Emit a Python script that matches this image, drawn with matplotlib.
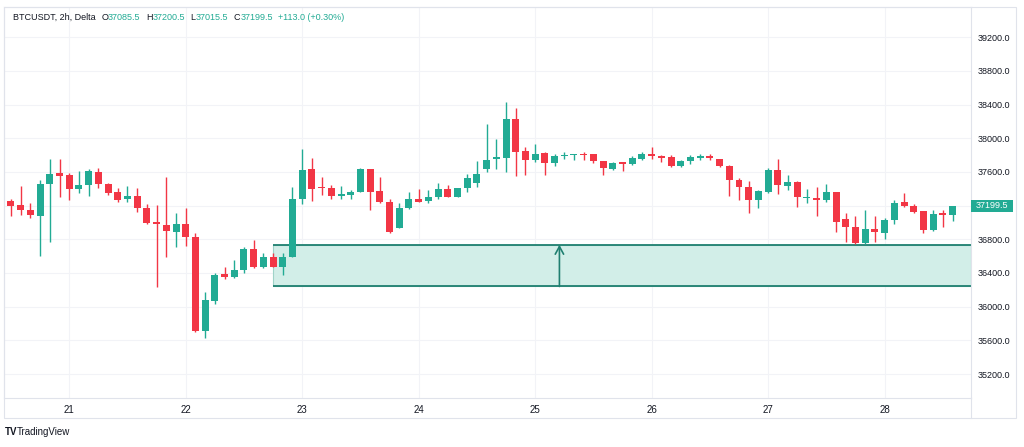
import matplotlib
matplotlib.use("Agg")
import matplotlib.pyplot as plt
import matplotlib.patches as patches
from matplotlib.lines import Line2D
import matplotlib.transforms as mtransforms

# 2h candles, first one is the 20th 12:00
opens = [37259, 37206, 37150, 37079, 37459, 37589, 37562, 37392, 37440, 37598,
         37459, 37360, 37277, 37309, 37174, 37004, 36968, 36889, 36977, 36830,
         35714, 36070, 36383, 36355, 36434, 36684, 36466, 36592, 36474, 36585,
         37285, 37633, 37420, 37412, 37316, 37325, 37364, 37641, 37376, 37238,
         36937, 37167, 37277, 37257, 37297, 37392, 37305, 37412, 37475, 37641,
         37752, 37767, 38227, 37847, 37748, 37827, 37701, 37788, 37800, 37815,
         37808, 37728, 37641, 37716, 37696, 37760, 37811, 37788, 37779, 37672,
         37728, 37767, 37791, 37760, 37672, 37503, 37423, 37265, 37364, 37629,
         37435, 37482, 37293, 37289, 37265, 37364, 37036, 36941, 36751, 36921,
         36870, 37028, 37245, 37194, 37138, 36909, 37115, 37085.5]
highs = [37277, 37435, 37226, 37503, 37752, 37752, 37589, 37609, 37633, 37648,
         37475, 37411, 37431, 37411, 37214, 37202, 37535, 37114, 37167, 36877,
         36177, 36395, 36474, 36553, 36711, 36790, 36640, 36632, 36632, 37423,
         37879, 37772, 37542, 37443, 37435, 37384, 37649, 37641, 37542, 37285,
         37226, 37357, 37392, 37384, 37475, 37443, 37412, 37582, 37728, 38167,
         37989, 38432, 38361, 37898, 37938, 37839, 37808, 37835, 37815, 37839,
         37819, 37728, 37720, 37720, 37788, 37835, 37898, 37800, 37800, 37740,
         37800, 37819, 37819, 37760, 37680, 37523, 37494, 37384, 37648, 37760,
         37562, 37494, 37392, 37416, 37455, 37364, 37107, 37075, 37154, 37075,
         37048, 37273, 37352, 37218, 37138, 37154, 37154, 37200.5]
lows = [37075, 37087, 37055, 36604, 36770, 37304, 37273, 37352, 37316, 37411,
        37321, 37238, 37245, 37126, 36988, 36236, 36592, 36704, 36719, 35700,
        35631, 36035, 36324, 36336, 36395, 36454, 36454, 36470, 36375, 36585,
        37218, 37257, 37325, 37277, 37277, 37277, 37360, 37146, 37226, 36870,
        36929, 37159, 37238, 37226, 37277, 37300, 37300, 37364, 37423, 37601,
        37633, 37594, 37554, 37562, 37720, 37570, 37672, 37752, 37740, 37748,
        37701, 37570, 37621, 37609, 37684, 37740, 37760, 37720, 37660, 37660,
        37700, 37748, 37740, 37660, 37313, 37273, 37115, 37167, 37352, 37336,
        37384, 37186, 37226, 37075, 37245, 36889, 36770, 36745, 36745, 36770,
        36802, 36980, 37186, 37111, 36870, 36901, 36941, 37015.5]
closes = [37200, 37147, 37091, 37459, 37577, 37554, 37396, 37440, 37609, 37459,
          37345, 37269, 37309, 37167, 36999, 36984, 36897, 36977, 36830, 35714,
          36078, 36375, 36348, 36434, 36684, 36466, 36592, 36474, 36592, 37285,
          37621, 37399, 37412, 37316, 37336, 37364, 37641, 37364, 37238, 36882,
          37167, 37285, 37245, 37305, 37392, 37305, 37412, 37523, 37574, 37740,
          37779, 38235, 37839, 37748, 37819, 37701, 37788, 37796, 37815, 37800,
          37732, 37649, 37708, 37696, 37767, 37808, 37788, 37767, 37669, 37732,
          37779, 37791, 37767, 37672, 37503, 37416, 37265, 37372, 37621, 37443,
          37482, 37297, 37305, 37273, 37364, 37008, 36941, 36751, 36917, 36889,
          37028, 37233, 37194, 37119, 36909, 37099, 37084, 37199.5]

days = [21, 22, 23, 24, 25, 26, 27, 28]
price_ticks = [35200, 35600, 36000, 36400, 36800, 37200, 37600, 38000, 38400, 38800, 39200]

# demand zone drawn on the chart
zone_start = 27
zone_low = 36240
zone_high = 36735
arrow_at = 56.5

header_name = "BTCUSDT, 2h, Delta"
header_ohlc = [("O", "37085.5"), ("H", "37200.5"), ("L", "37015.5"), ("C", "37199.5")]
header_change = "+113.0 (+0.30%)"

up = "#22ab94"
down = "#f23645"
zone_line = "#1f7f70"
zone_fill = "#d2eee8"
grid_c = "#f2f3f7"
frame_c = "#e0e3eb"
text_c = "#131722"

plt.rcParams['font.family'] = ['Liberation Sans', 'DejaVu Sans']

W, H = 1024, 447
fig = plt.figure(figsize=(W / 100, H / 100), dpi=100)
fig.patch.set_facecolor("white")

# plot area in pixels: x 4..971, y 7..398
L, R, T, B = 4, 971, 7, 398
ax = fig.add_axes([L / W, (H - B) / H, (R - L) / W, (B - T) / H])

n = len(closes)
xs = list(range(n))
colors = [up if c >= o else down for o, c in zip(opens, closes)]

ax.vlines(xs, lows, highs, colors=colors, linewidth=1.0, zorder=3)
bottoms = [min(o, c) for o, c in zip(opens, closes)]
heights = [max(abs(c - o), 14) for o, c in zip(opens, closes)]
ax.bar(xs, heights, bottom=bottoms, width=0.72, color=colors, linewidth=0, zorder=4)

x_left, x_right = -0.72, 98.9
ax.set_xlim(x_left, x_right)
ax.set_ylim(34915, 39560)

# zone + arrow
rect = patches.Rectangle((zone_start, zone_low), x_right - zone_start, zone_high - zone_low,
                         facecolor=zone_fill, edgecolor="#9fd3c8", linewidth=0.8, zorder=1)
ax.add_patch(rect)
ax.hlines([zone_low, zone_high], zone_start, x_right, colors=zone_line, linewidth=1.3, zorder=2)
ax.annotate("", xy=(arrow_at, zone_high), xytext=(arrow_at, zone_low),
            arrowprops=dict(arrowstyle="->,head_length=0.55,head_width=0.3",
                            color=zone_line, lw=1.2, shrinkA=0, shrinkB=0), zorder=2)

# ticks: day labels at midnight, candle 0 = 20th 12:00
ax.set_xticks([(d - 20) * 12 - 6 for d in days])
ax.set_xticklabels([str(d) for d in days])
ax.set_yticks(price_ticks)
# tradingview hides the tick hidden under the last price tag
ax.set_yticklabels(["" if abs(p - closes[-1]) < 150 else f"{p:.1f}" for p in price_ticks])
ax.yaxis.tick_right()
ax.tick_params(axis="x", length=0, pad=5, labelsize=7, labelcolor=text_c)
ax.tick_params(axis="y", length=0, pad=5, labelsize=6.5, labelcolor=text_c)
ax.grid(True, color=grid_c, linewidth=0.8, zorder=0)
ax.set_axisbelow(True)
for s in ax.spines.values():
    s.set_color(frame_c)
    s.set_linewidth(0.8)

# last price tag on the right scale
blend = mtransforms.blended_transform_factory(ax.transAxes, ax.transData)
tag_w = 42 / (R - L)
ax.add_patch(patches.Rectangle((1.0, closes[-1] - 72), tag_w, 144, transform=blend,
                               facecolor=up, edgecolor="none", clip_on=False, zorder=5))
ax.text(1 + tag_w / 2, closes[-1], f"{closes[-1]:.1f}", transform=blend, ha="center",
        va="center", color="white", fontsize=6.5, zorder=6, clip_on=False)

# outer frame incl. axis strips
fig.add_artist(patches.Rectangle((L / W, (H - 418) / H), (1016 - L) / W, (418 - T) / H,
                                 transform=fig.transFigure, fill=False, edgecolor=frame_c,
                                 linewidth=0.8))
fig.add_artist(Line2D([R / W, R / W], [(H - 418) / H, (H - B) / H], transform=fig.transFigure,
                      color=frame_c, linewidth=0.8))

# header legend
t = fig.text(13 / W, 1 - 17 / H, header_name, fontsize=6.5, color=text_c, va="center", ha="left")
prev = t
for lab, val in header_ohlc:
    a = ax.annotate(lab, xy=(1, 0.5), xycoords=prev, xytext=(4, 0), textcoords="offset points",
                    fontsize=6.5, color=text_c, va="center", ha="left", annotation_clip=False)
    b = ax.annotate(val, xy=(1, 0.5), xycoords=a, xytext=(0, 0), textcoords="offset points",
                    fontsize=6.5, color=up, va="center", ha="left", annotation_clip=False)
    prev = b
ax.annotate(header_change, xy=(1, 0.5), xycoords=prev, xytext=(4, 0), textcoords="offset points",
            fontsize=6.5, color=up, va="center", ha="left", annotation_clip=False)

# TradingView mark
fig.text(5 / W, 1 - 432 / H, "TV", fontsize=7, fontweight="bold", color=text_c, va="center")
fig.text(17 / W, 1 - 432 / H, "TradingView", fontsize=7, color=text_c, va="center")

fig.savefig("out.png", dpi=100)
